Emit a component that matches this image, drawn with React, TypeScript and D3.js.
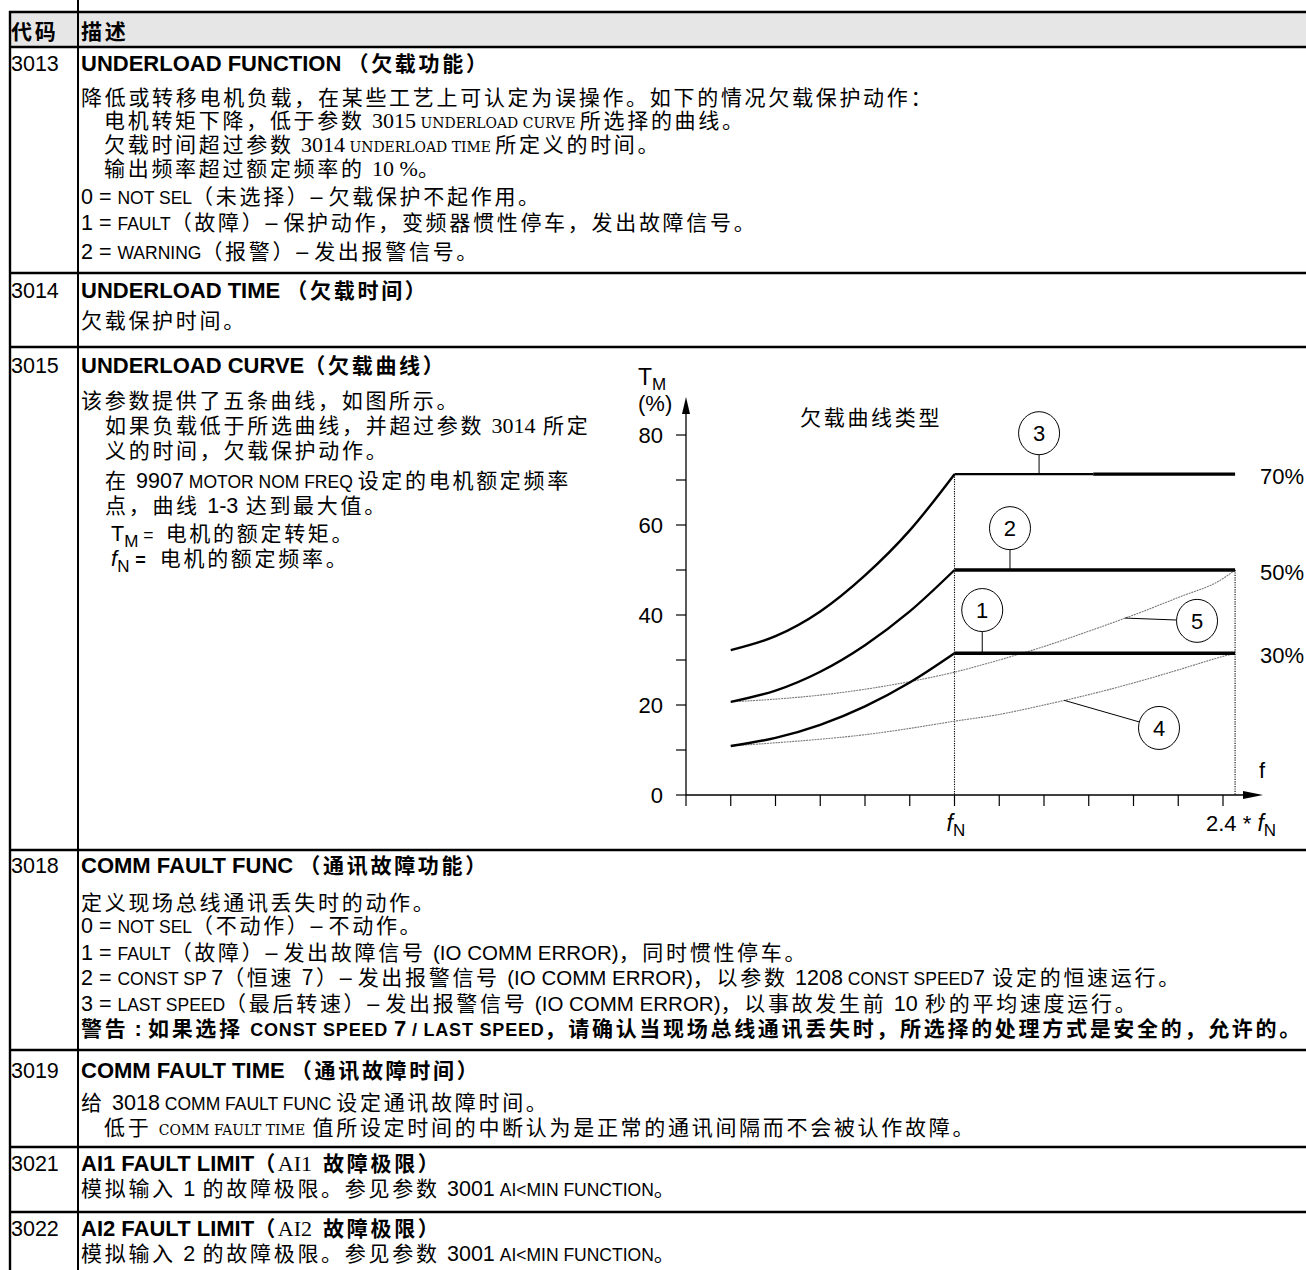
import React from "react";
import * as d3 from "d3";

// ---------------- chart data ----------------
const yMajorTicks = [0, 20, 40, 60, 80];
const yMinorTicks = [10, 30, 50, 70];
const xTickIdx = d3.range(0, 13); // decorative ticks along f axis
const fNPos = 6; // f_N on the tick scale
const endPos = 12.27; // 2.4 * f_N
const riseTicks = [1, 2, 3, 4, 5, 6];
const curve1 = [10.9, 12.7, 15.6, 19.7, 25.0, 31.5];
const curve2 = [20.7, 23.2, 27.4, 33.3, 40.8, 50.0];
const curve3 = [32.2, 35.3, 40.8, 48.8, 58.8, 71.3];
const plateauLevels = [31.5, 50.0, 71.3];
const plateauLabels = ["30%", "50%", "70%"];
const thinTicks = [1, 2, 3, 4, 5, 6, 7, 8, 9, 10, 11, 12, 12.27];
const curve4 = [10.9, 11.6, 12.4, 13.4, 14.8, 16.4, 17.9, 20.0, 22.3, 24.9, 27.8, 30.8, 31.5];
const curve5 = [20.7, 21.3, 22.2, 23.5, 25.2, 27.3, 30.0, 33.0, 36.4, 40.0, 43.9, 48.1, 50.0];
const markerIds = ["1", "2", "3", "4", "5"];
const markerCenters = [
  [6.62, 41.1],
  [7.24, 59.3],
  [7.89, 80.4],
  [10.57, 14.9],
  [11.42, 38.7],
];
const markerTargetsX = [6.62, 7.24, 7.89, 8.45, 9.81];

// ---------------- table text ----------------
type Seg = { t: string; f: string; dy?: number };
const S = (f: string, t: string, dy?: number): Seg => ({ f, t, dy });

const rowLinesY = [12, 47, 273, 347, 850, 1050, 1147, 1212];
const codes = [
  { t: "3013", y: 63 },
  { t: "3014", y: 290 },
  { t: "3015", y: 365 },
  { t: "3018", y: 865 },
  { t: "3019", y: 1070 },
  { t: "3021", y: 1163 },
  { t: "3022", y: 1228 },
];

const descLines: { x: number; y: number; segs: Seg[] }[] = [
  { x: 81, y: 63, segs: [S("ab", "UNDERLOAD FUNCTION "), S("cb", "（欠载功能）")] },
  { x: 81, y: 97, segs: [S("c", "降低或转移电机负载，在某些工艺上可认定为误操作。如下的情况欠载保护动作：")] },
  { x: 104, y: 120, segs: [S("c", "电机转矩下降，低于参数 "), S("r", "3015"), S("n", " UNDERLOAD CURVE "), S("c", "所选择的曲线。")] },
  { x: 104, y: 144, segs: [S("c", "欠载时间超过参数 "), S("r", "3014"), S("n", " UNDERLOAD TIME "), S("c", "所定义的时间。")] },
  { x: 104, y: 168, segs: [S("c", "输出频率超过额定频率的 "), S("r", "10 %"), S("c", "。")] },
  { x: 81, y: 196, segs: [S("a", "0 = "), S("s", "NOT SEL"), S("c", "（未选择）"), S("a", "– "), S("c", "欠载保护不起作用。")] },
  { x: 81, y: 222, segs: [S("a", "1 = "), S("s", "FAULT"), S("c", "（故障）"), S("a", "– "), S("c", "保护动作，变频器惯性停车，发出故障信号。")] },
  { x: 81, y: 251, segs: [S("a", "2 = "), S("s", "WARNING"), S("c", "（报警）"), S("a", "– "), S("c", "发出报警信号。")] },

  { x: 81, y: 290, segs: [S("ab", "UNDERLOAD TIME "), S("cb", "（欠载时间）")] },
  { x: 81, y: 320, segs: [S("c", "欠载保护时间。")] },

  { x: 81, y: 365, segs: [S("ab", "UNDERLOAD CURVE"), S("cb", "（欠载曲线）")] },
  { x: 81, y: 400, segs: [S("c", "该参数提供了五条曲线，如图所示。")] },
  { x: 105, y: 425, segs: [S("c", "如果负载低于所选曲线，并超过参数 "), S("r", "3014"), S("c", " 所定")] },
  { x: 105, y: 450, segs: [S("c", "义的时间，欠载保护动作。")] },
  { x: 105, y: 480, segs: [S("c", "在 "), S("a", "9907"), S("s", " MOTOR NOM FREQ "), S("c", "设定的电机额定频率")] },
  { x: 105, y: 505, segs: [S("c", "点，曲线 "), S("a", "1-3"), S("c", " 达到最大值。")] },
  { x: 111, y: 533, segs: [S("a", "T"), S("sub", "M", 6), S("s", " = ", -6), S("c", " 电机的额定转矩。")] },
  { x: 111, y: 558, segs: [S("ai", "f"), S("sub", "N", 6), S("sb", " = ", -6), S("c", " 电机的额定频率。")] },

  { x: 81, y: 865, segs: [S("ab", "COMM FAULT FUNC "), S("cb", "（通讯故障功能）")] },
  { x: 81, y: 902, segs: [S("c", "定义现场总线通讯丢失时的动作。")] },
  { x: 81, y: 925, segs: [S("a", "0 = "), S("s", "NOT SEL"), S("c", "（不动作）"), S("a", "– "), S("c", "不动作。")] },
  { x: 81, y: 952, segs: [S("a", "1 = "), S("s", "FAULT"), S("c", "（故障）"), S("a", "– "), S("c", "发出故障信号 "), S("m", "(IO COMM ERROR)"), S("c", "，同时惯性停车。")] },
  { x: 81, y: 977, segs: [S("a", "2 = "), S("s", "CONST SP "), S("a", "7"), S("c", "（恒速 7）"), S("a", "– "), S("c", "发出报警信号 "), S("m", "(IO COMM ERROR)"), S("c", "，以参数 "), S("a", "1208"), S("s", " CONST SPEED"), S("a", "7"), S("c", " 设定的恒速运行。")] },
  { x: 81, y: 1003, segs: [S("a", "3 = "), S("s", "LAST SPEED"), S("c", "（最后转速）"), S("a", "– "), S("c", "发出报警信号 "), S("m", "(IO COMM ERROR)"), S("c", "，以事故发生前 "), S("a", "10"), S("c", " 秒的平均速度运行。")] },
  { x: 81, y: 1028, segs: [S("cb", "警告"), S("ab", " : "), S("cb", "如果选择 "), S("sb", "CONST SPEED "), S("ab", "7"), S("sb", " / LAST SPEED"), S("cb", "，请确认当现场总线通讯丢失时，所选择的处理方式是安全的，允许的。")] },

  { x: 81, y: 1070, segs: [S("ab", "COMM FAULT TIME "), S("cb", "（通讯故障时间）")] },
  { x: 81, y: 1102, segs: [S("c", "给 "), S("a", "3018"), S("s", " COMM FAULT FUNC "), S("c", "设定通讯故障时间。")] },
  { x: 104, y: 1127, segs: [S("c", "低于 "), S("n", "COMM FAULT TIME"), S("c", " 值所设定时间的中断认为是正常的通讯间隔而不会被认作故障。")] },

  { x: 81, y: 1163, segs: [S("ab", "AI1 FAULT LIMIT"), S("cb", "（"), S("r", "AI1  "), S("cb", "故障极限）")] },
  { x: 81, y: 1188, segs: [S("c", "模拟输入 "), S("a", "1"), S("c", " 的故障极限。参见参数 "), S("a", "3001"), S("s", " AI<MIN FUNCTION"), S("c", "。")] },
  { x: 81, y: 1228, segs: [S("ab", "AI2 FAULT LIMIT"), S("cb", "（"), S("r", "AI2  "), S("cb", "故障极限）")] },
  { x: 81, y: 1253, segs: [S("c", "模拟输入 "), S("a", "2"), S("c", " 的故障极限。参见参数 "), S("a", "3001"), S("s", " AI<MIN FUNCTION"), S("c", "。")] },
];

const CJK = "'Noto Sans CJK SC', 'Noto Sans CJK JP', sans-serif";
const SANS = "'Liberation Sans', Arial, sans-serif";
const SERIF = "'Liberation Serif', 'Times New Roman', serif";
const COND = "'DejaVu Serif Condensed', 'Liberation Serif', serif";

const FONTS: Record<string, any> = {
  c: { fontFamily: CJK, fontSize: 21, fontWeight: 400, letterSpacing: 2.7 },
  cb: { fontFamily: CJK, fontSize: 21, fontWeight: 700, letterSpacing: 2.7 },
  a: { fontFamily: SANS, fontSize: 21.5 },
  ab: { fontFamily: SANS, fontSize: 22, fontWeight: 700 },
  ai: { fontFamily: SANS, fontSize: 22, fontStyle: "italic" },
  s: { fontFamily: SANS, fontSize: 17.5 },
  sb: { fontFamily: SANS, fontSize: 18, fontWeight: 700, letterSpacing: 0.8 },
  m: { fontFamily: SANS, fontSize: 20.5 },
  r: { fontFamily: SERIF, fontSize: 22 },
  n: { fontFamily: COND, fontSize: 15.5 },
  sub: { fontFamily: SANS, fontSize: 17 },
};

function TextLine({ x, y, segs }: { x: number; y: number; segs: Seg[] }) {
  return (
    <text x={x} y={y + 8} fill="#000" style={{ whiteSpace: "pre" }}>
      {segs.map((s, i) => (
        <tspan key={i} dy={s.dy} {...FONTS[s.f]}>
          {s.t}
        </tspan>
      ))}
    </text>
  );
}

function interp(xs: number[], ys: number[], t: number) {
  for (let i = 0; i < xs.length - 1; i++) {
    if (t >= xs[i] && t <= xs[i + 1]) {
      const k = (t - xs[i]) / (xs[i + 1] - xs[i]);
      return ys[i] + k * (ys[i + 1] - ys[i]);
    }
  }
  return ys[ys.length - 1];
}

export default function App() {
  const W = 1306;
  const H = 1270;
  const x = d3.scaleLinear().domain([0, 12]).range([686, 1223]);
  const y = d3.scaleLinear().domain([0, 80]).range([795, 435]);
  const line = d3
    .line<[number, number]>()
    .x((d) => x(d[0]))
    .y((d) => y(d[1]))
    .curve(d3.curveMonotoneX);

  const thick = [curve1, curve2, curve3].map((c) => line(riseTicks.map((t, i) => [t, c[i]] as [number, number])) || "");
  const thin = [curve4, curve5].map((c) => line(thinTicks.map((t, i) => [t, c[i]] as [number, number])) || "");

  const targetsY = [
    plateauLevels[0],
    plateauLevels[1],
    plateauLevels[2],
    interp(thinTicks, curve4, markerTargetsX[3]),
    interp(thinTicks, curve5, markerTargetsX[4]),
  ];

  const x0 = x(0);
  const y0 = y(0);

  return (
    <svg
      width={W}
      height={H}
      viewBox={`0 0 ${W} ${H}`}
      style={{ position: "absolute", left: 0, top: 0, background: "#fff" }}
    >
      <rect x={0} y={0} width={W} height={H} fill="#fff" />
      {/* header band */}
      <rect x={10} y={12} width={W - 10} height={35} fill="#e6e6e6" />
      {/* table rules */}
      {rowLinesY.map((ry, i) => (
        <line key={i} x1={9} x2={W} y1={ry} y2={ry} stroke="#000" strokeWidth={2.6} />
      ))}
      <line x1={10} x2={10} y1={11} y2={H} stroke="#000" strokeWidth={2.4} />
      <line x1={78} x2={78} y1={0} y2={H} stroke="#000" strokeWidth={2} />

      {/* header text */}
      <TextLine x={11} y={31} segs={[S("cb", "代码")]} />
      <TextLine x={81} y={31} segs={[S("cb", "描述")]} />

      {codes.map((c, i) => (
        <TextLine key={i} x={11} y={c.y} segs={[S("a", c.t)]} />
      ))}
      {descLines.map((l, i) => (
        <TextLine key={i} x={l.x} y={l.y} segs={l.segs} />
      ))}

      {/* ---------------- chart ---------------- */}
      <g>
        {/* y axis */}
        <line x1={x0} x2={x0} y1={y0} y2={404} stroke="#000" strokeWidth={1.3} />
        <path d={`M${x0},397 L${x0 - 4},414 L${x0 + 4},414 Z`} fill="#000" />
        {yMajorTicks.concat(yMinorTicks).map((v) => (
          <line key={"yt" + v} x1={x0 - 10} x2={x0} y1={y(v)} y2={y(v)} stroke="#000" strokeWidth={1.2} />
        ))}
        {yMajorTicks.map((v) => (
          <text
            key={"yl" + v}
            x={663}
            y={y(v) + 8}
            textAnchor="end"
            fontFamily={SANS}
            fontSize={22}
          >
            {v}
          </text>
        ))}
        {/* x axis */}
        <line x1={x0} x2={1250} y1={y0} y2={y0} stroke="#000" strokeWidth={1.3} />
        <path d={`M1263,${y0} L1243,${y0 - 4} L1243,${y0 + 4} Z`} fill="#000" />
        {xTickIdx.map((t) => (
          <line key={"xt" + t} x1={x(t)} x2={x(t)} y1={y0} y2={y0 + 11} stroke="#000" strokeWidth={1.2} />
        ))}
        {/* axis labels */}
        <text x={638} y={385} fontFamily={SANS} fontSize={23}>
          T<tspan fontSize={17} dy={5}>M</tspan>
        </text>
        <text x={638} y={411} fontFamily={SANS} fontSize={22}>
          (%)
        </text>
        <text x={1262} y={778} textAnchor="middle" fontFamily={SANS} fontSize={22}>
          f
        </text>
        <text x={x(fNPos) - 8} y={831} fontFamily={SANS} fontSize={23}>
          <tspan fontStyle="italic">f</tspan>
          <tspan fontSize={17} dy={5}>N</tspan>
        </text>
        <text x={1206} y={831} fontFamily={SANS} fontSize={22} style={{ whiteSpace: "pre" }}>
          {"2.4 * "}
          <tspan fontStyle="italic" fontSize={23}>f</tspan>
          <tspan fontSize={17} dy={5}>N</tspan>
        </text>
        <text x={800} y={425} fontFamily={CJK} fontSize={21} letterSpacing={2.7}>
          欠载曲线类型
        </text>

        {/* dotted verticals */}
        <line
          x1={x(fNPos)}
          x2={x(fNPos)}
          y1={y(plateauLevels[2])}
          y2={y0}
          stroke="#000"
          strokeWidth={1.1}
          strokeDasharray="1.2,1.2"
        />
        <line
          x1={x(endPos)}
          x2={x(endPos)}
          y1={y(plateauLevels[1])}
          y2={y0}
          stroke="#000"
          strokeWidth={1.1}
          strokeDasharray="1.2,1.2"
        />

        {/* thin curves 4, 5 */}
        {thin.map((d, i) => (
          <path key={"thin" + i} d={d} fill="none" stroke="#7a7a7a" strokeWidth={1.1} strokeDasharray="2,0.8" />
        ))}
        {/* thick rising curves */}
        {thick.map((d, i) => (
          <path key={"thick" + i} d={d} fill="none" stroke="#000" strokeWidth={2.4} />
        ))}
        {/* plateaus */}
        <line x1={x(fNPos)} x2={x(endPos)} y1={y(plateauLevels[0])} y2={y(plateauLevels[0])} stroke="#000" strokeWidth={3.4} />
        <line x1={x(fNPos)} x2={x(endPos)} y1={y(plateauLevels[1])} y2={y(plateauLevels[1])} stroke="#000" strokeWidth={3.4} />
        <line x1={x(fNPos)} x2={x(9.1)} y1={y(plateauLevels[2])} y2={y(plateauLevels[2])} stroke="#000" strokeWidth={2.4} />
        <line x1={x(9.1)} x2={x(endPos)} y1={y(plateauLevels[2])} y2={y(plateauLevels[2])} stroke="#000" strokeWidth={3.4} />
        {plateauLabels.map((lab, i) => (
          <text key={"pl" + i} x={1260} y={y(plateauLevels[i]) + 10} fontFamily={SANS} fontSize={22}>
            {lab}
          </text>
        ))}

        {/* numbered markers */}
        {markerIds.map((id, i) => {
          const cx = x(markerCenters[i][0]);
          const cy = y(markerCenters[i][1]);
          const tx = x(markerTargetsX[i]);
          const ty = y(targetsY[i]);
          const rx = 20.5;
          const ry = 21.5;
          const ang = Math.atan2(ty - cy, tx - cx);
          const sx = cx + rx * Math.cos(ang);
          const sy = cy + ry * Math.sin(ang);
          return (
            <g key={"m" + id}>
              <line x1={sx} y1={sy} x2={tx} y2={ty} stroke="#000" strokeWidth={1} />
              <ellipse cx={cx} cy={cy} rx={rx} ry={ry} fill="#fff" stroke="#000" strokeWidth={1} />
              <text x={cx} y={cy + 8} textAnchor="middle" fontFamily={SANS} fontSize={22}>
                {id}
              </text>
            </g>
          );
        })}
      </g>
    </svg>
  );
}
